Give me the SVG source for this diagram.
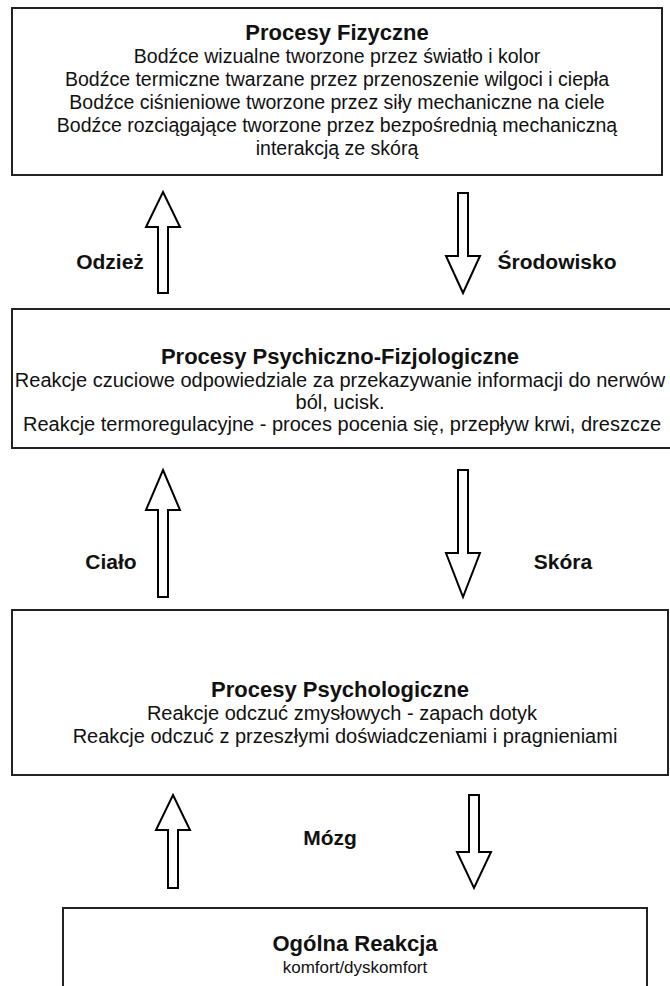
<svg xmlns="http://www.w3.org/2000/svg" width="670" height="986" viewBox="0 0 670 986">
<style>
.box{fill:#fff;stroke:#222;stroke-width:2}
.arr{fill:#fff;stroke:#000;stroke-width:2;stroke-linejoin:miter}
text{font-family:"Liberation Sans",Arial,sans-serif;fill:#111;text-anchor:middle}
.t{font-size:22px;font-weight:bold}
.b{font-size:20px}
.b1{font-size:19.5px}
.s{font-size:17px}
.l{font-size:21px;font-weight:bold}
</style>
<rect width="670" height="986" fill="#fff"/>
<g id="node-fizyczne">
<rect class="box" x="12" y="8" width="650" height="167"/>
<text class="t" x="337" y="40">Procesy Fizyczne</text>
<text class="b1" x="337" y="63">Bodźce wizualne tworzone przez światło i kolor</text>
<text class="b1" x="337" y="86">Bodźce termiczne twarzane przez przenoszenie wilgoci i ciepła</text>
<text class="b1" x="337" y="109">Bodźce ciśnieniowe tworzone przez siły mechaniczne na ciele</text>
<text class="b1" x="337" y="132">Bodźce rozciągające tworzone przez bezpośrednią mechaniczną</text>
<text class="b1" x="337" y="155">interakcją ze skórą</text>
</g>
<g id="node-psychofizjo">
<rect class="box" x="12" y="309" width="660" height="139"/>
<text class="t" x="340" y="364">Procesy Psychiczno-Fizjologiczne</text>
<text class="b" x="340" y="387">Reakcje czuciowe odpowiedziale za przekazywanie informacji do nerwów</text>
<text class="b" x="340" y="409">ból, ucisk.</text>
<text class="b" x="342" y="431">Reakcje termoregulacyjne - proces pocenia się, przepływ krwi, dreszcze</text>
</g>
<g id="node-psychologiczne">
<rect class="box" x="12" y="610" width="656" height="165"/>
<text class="t" x="340" y="697">Procesy Psychologiczne</text>
<text class="b" x="342" y="720">Reakcje odczuć zmysłowych - zapach dotyk</text>
<text class="b" x="345" y="743">Reakcje odczuć z przeszłymi doświadczeniami i pragnieniami</text>
</g>
<g id="node-ogolna">
<rect class="box" x="63" y="908" width="584" height="100"/>
<text class="t" x="355" y="951">Ogólna Reakcja</text>
<text class="s" x="355" y="973">komfort/dyskomfort</text>
</g>
<g id="connectors">
<path class="arr" d="M163,192 L180,227 L168,227 L168,293 L158,293 L158,227 L146,227 Z"/>
<path class="arr" d="M458,193 L468,193 L468,256 L480,256 L463,293 L446,256 L458,256 Z"/>
<path class="arr" d="M163,470 L180,510 L168,510 L168,597 L158,597 L158,510 L146,510 Z"/>
<path class="arr" d="M458,470 L468,470 L468,553 L480,553 L463,597 L446,553 L458,553 Z"/>
<path class="arr" d="M173,795 L190,830 L178,830 L178,888 L168,888 L168,830 L156,830 Z"/>
<path class="arr" d="M469,795 L479,795 L479,852 L491,852 L474,888 L457,852 L469,852 Z"/>
<text class="l" x="110" y="269">Odzież</text>
<text class="l" x="557" y="269">Środowisko</text>
<text class="l" x="111" y="569">Ciało</text>
<text class="l" x="563" y="569">Skóra</text>
<text class="l" x="330" y="845">Mózg</text>
</g>
</svg>
